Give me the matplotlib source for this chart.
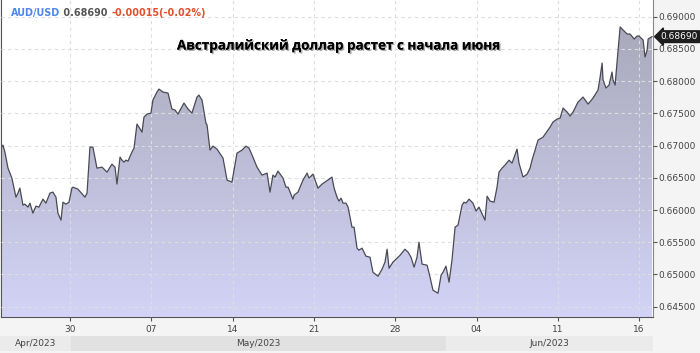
import matplotlib.pyplot as plt
import numpy as np
from matplotlib import patheffects as pe
from matplotlib.colors import LinearSegmentedColormap
from matplotlib.patches import Polygon
from matplotlib.transforms import blended_transform_factory

# trading days relative to the "30" (Apr 30) tick
t = [-4.24, -4.12, -4.00, -3.81, -3.57, -3.32, -3.20, -3.08, -2.89, -2.77,
     -2.58, -2.46, -2.28, -2.09, -1.91, -1.66, -1.48, -1.23, -1.05, -0.86,
     -0.74, -0.55, -0.43, -0.25, -0.06, 0.12, 0.18, 0.49, 0.92, 1.05,
     1.23, 1.41, 1.66, 1.97, 2.28, 2.58, 2.77, 2.89, 3.08, 3.20,
     3.32, 3.44, 3.57, 3.81, 3.94, 4.12, 4.24, 4.43, 4.55, 4.74,
     4.98, 5.10, 5.35, 5.47, 5.72, 6.03, 6.27, 6.46, 6.64, 7.01,
     7.26, 7.50, 7.81, 7.93, 8.12, 8.36, 8.43, 8.61, 8.79, 9.04,
     9.41, 9.66, 9.96, 10.27, 10.58, 10.82, 11.01, 11.25, 11.50, 11.81,
     12.12, 12.30, 12.48, 12.61, 12.79, 13.10, 13.28, 13.41, 13.71, 13.78,
     14.02, 14.33, 14.58, 14.70, 14.94, 15.25, 15.50, 15.68, 16.11, 16.24,
     16.42, 16.54, 16.67, 16.79, 16.97, 17.10, 17.34, 17.47, 17.65, 17.77,
     17.96, 18.20, 18.45, 18.63, 18.94, 19.19, 19.37, 19.50, 19.62, 19.86,
     20.30, 20.60, 20.79, 20.97, 21.16, 21.34, 21.46, 21.65, 21.96, 22.14,
     22.32, 22.63, 22.82, 22.94, 23.12, 23.31, 23.49, 23.68, 23.86, 24.11,
     24.23, 24.35, 24.54, 24.78, 24.97, 25.15, 25.52, 25.65, 25.83, 26.08,
     26.26, 26.38, 26.57, 26.75, 27.00, 27.18, 27.49, 27.61, 27.86, 28.11,
     28.29, 28.41, 28.60, 28.78, 29.09, 29.52, 29.70, 29.95, 30.14, 30.32,
     30.57, 30.75, 30.93, 31.24, 31.55, 31.86, 32.16, 32.47, 32.60, 32.72,
     32.78, 32.96, 33.15, 33.33, 33.39, 33.52, 33.64, 33.83, 34.01, 34.26,
     34.44, 34.69, 34.87, 34.99, 35.24, 35.36, 35.49, 35.55, 35.79]

price = [0.66961, 0.67007, 0.66899, 0.66650, 0.66495, 0.66200, 0.66262, 0.66340, 0.66076, 0.66091,
         0.66045, 0.66107, 0.65952, 0.66060, 0.66045, 0.66169, 0.66107, 0.66262, 0.66278, 0.66200,
         0.65952, 0.65843, 0.66122, 0.66091, 0.66122, 0.66340, 0.66355, 0.66324, 0.66200, 0.66262,
         0.66977, 0.66977, 0.66650, 0.66666, 0.66588, 0.66712, 0.66666, 0.66402, 0.66821, 0.66774,
         0.66743, 0.66774, 0.66759, 0.66899, 0.66961, 0.67334, 0.67287, 0.67209, 0.67442, 0.67489,
         0.67504, 0.67706, 0.67831, 0.67877, 0.67831, 0.67815, 0.67567, 0.67551, 0.67489, 0.67660,
         0.67567, 0.67504, 0.67753, 0.67784, 0.67706, 0.67349, 0.67318, 0.66930, 0.66992, 0.66945,
         0.66806, 0.66464, 0.66433, 0.66883, 0.66930, 0.66992, 0.66961, 0.66821, 0.66666, 0.66542,
         0.66573, 0.66278, 0.66542, 0.66511, 0.66604, 0.66495, 0.66355, 0.66355, 0.66169, 0.66231,
         0.66278, 0.66464, 0.66573, 0.66495, 0.66557, 0.66340, 0.66402, 0.66433, 0.66511, 0.66340,
         0.66200, 0.66138, 0.66184, 0.66107, 0.66107, 0.66045, 0.65734, 0.65734, 0.65408, 0.65377,
         0.65408, 0.65284, 0.65268, 0.65035, 0.64973, 0.65082, 0.65191, 0.65392, 0.65097, 0.65191,
         0.65299, 0.65392, 0.65346, 0.65268, 0.65113, 0.65268, 0.65501, 0.65160, 0.65144, 0.64958,
         0.64756, 0.64709, 0.64989, 0.65035, 0.65129, 0.64880, 0.65222, 0.65734, 0.65765, 0.66076,
         0.66122, 0.66107, 0.66169, 0.66107, 0.65983, 0.66045, 0.65843, 0.66215, 0.66138, 0.66122,
         0.66355, 0.66588, 0.66650, 0.66697, 0.66774, 0.66728, 0.66945, 0.66728, 0.66511, 0.66557,
         0.66650, 0.66774, 0.66930, 0.67085, 0.67132, 0.67287, 0.67365, 0.67411, 0.67427, 0.67582,
         0.67520, 0.67458, 0.67520, 0.67675, 0.67753, 0.67644, 0.67737, 0.67862, 0.68064, 0.68281,
         0.68017, 0.67893, 0.67940, 0.68141, 0.68017, 0.67940, 0.68297, 0.68840, 0.68793, 0.68731,
         0.68731, 0.68654, 0.68700, 0.68700, 0.68638, 0.68374, 0.68483, 0.68654, 0.68690]

yticks = [0.645, 0.650, 0.655, 0.660, 0.665, 0.670, 0.675, 0.680, 0.685, 0.690]
xtick_pos = [0, 5, 10, 15, 20, 25, 30, 35]
xtick_labels = ['30', '07', '14', '21', '28', '04', '11', '16']
months = ['Apr/2023', 'May/2023', 'Jun/2023']
month_edges = [-4.3, 0.06, 23.12, 35.85]
month_colors = ['#ebebeb', '#e1e1e1', '#ebebeb']

symbol = 'AUD/USD'
last_price = 0.68690
change = -0.00015
change_pct = -0.02
title = 'Австралийский доллар растет с начала июня'

W, H = 700, 353
xmin, xmax = -4.24, 35.85
ymin, ymax = 0.64340, 0.69259

fig = plt.figure(figsize=(W / 100, H / 100), dpi=100, facecolor='#f4f4f4')
ax = fig.add_axes([1 / W, 1 - 317 / H, 652 / W, 317 / H])
ax.set_facecolor('white')
ax.set_xlim(xmin, xmax)
ax.set_ylim(ymin, ymax)

# gradient area under the line
cmap = LinearSegmentedColormap.from_list('area', ['#d3d3f7', '#a6a6b6'])
grad = np.linspace(0, 1, 256).reshape(-1, 1)
im = ax.imshow(grad, extent=[xmin, xmax, ymin, ymax], origin='lower',
               aspect='auto', cmap=cmap, zorder=1)
verts = list(zip(t, price)) + [(t[-1], ymin), (t[0], ymin)]
clip = Polygon(verts, closed=True, fc='none', ec='none')
ax.add_patch(clip)
im.set_clip_path(clip)
ax.plot(t, price, color='#4a4a55', lw=0.9, zorder=3)

# grid and axes
ax.set_axisbelow(False)
ax.set_yticks(yticks)
ax.set_yticklabels([f'{v:.5f}' for v in yticks])
ax.set_xticks(xtick_pos)
ax.set_xticklabels(xtick_labels)
ax.grid(True, color='#dedede', ls=(0, (3, 3)), lw=0.8)
ax.yaxis.tick_right()
ax.tick_params(axis='y', length=3, width=0.8, color='#555555', labelsize=6.5,
               labelcolor='#444444', pad=1)
ax.tick_params(axis='x', length=3, width=0.8, color='#555555', labelsize=6.5,
               labelcolor='#444444', pad=3)
for s in ['left', 'bottom']:
    ax.spines[s].set_color('#555555')
ax.spines['right'].set_color('#888888')
ax.spines['top'].set_visible(False)

# last price marker
tr = blended_transform_factory(ax.transAxes, ax.transData)
ax.text(1.012, last_price, f'{last_price:.5f}', transform=tr, color='white',
        fontsize=6.5, va='center', ha='left',
        bbox=dict(boxstyle='larrow,pad=0.15', fc='#1e1e1e', ec='#1e1e1e'))

# month band
band = fig.add_axes([0, 1 - 351 / H, 653 / W, 15 / H])
band.set_xlim(xmin - 1 / 16.26, xmax)
band.set_ylim(0, 1)
band.axis('off')
for i, m in enumerate(months):
    band.axvspan(month_edges[i], month_edges[i + 1], color=month_colors[i])
    band.text((month_edges[i] + month_edges[i + 1]) / 2, 0.5, m, ha='center',
              va='center', fontsize=6.5, color='#444444')

# header
h1 = fig.text(11 / W, 1 - 13 / H, symbol, color='#4f86ec', fontsize=6.9,
              fontweight='bold', va='center')
h2 = ax.annotate(f' {last_price:.5f} ', xy=(1, 0.5), xycoords=h1,
                 color='#555555', fontsize=6.9, fontweight='bold', va='center')
ax.annotate(f'{change:.5f}({change_pct:.2f}%)', xy=(1, 0.5), xycoords=h2,
            color='#e0502d', fontsize=6.9, fontweight='bold', va='center')

fig.text(339 / W, 1 - 46 / H, title, ha='center', va='center', fontsize=9.7,
         fontweight='bold', family='Open Sans', color='black',
         path_effects=[pe.withStroke(linewidth=1.5, foreground='white'),
                       pe.withSimplePatchShadow(offset=(1, -1), shadow_rgbFace='#888888', alpha=0.7)])

fig.savefig('out.png', dpi=100, facecolor=fig.get_facecolor())
